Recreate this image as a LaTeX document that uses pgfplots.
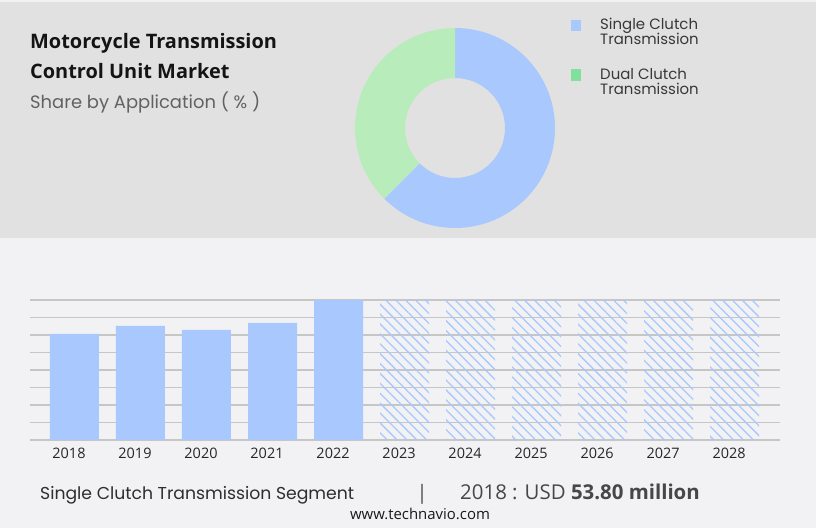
\documentclass[border=0pt]{standalone}
\usepackage{fontspec}
\setmainfont{Open Sans}
\newfontfamily\gothic{Poppins}
\usepackage{pgfplots}
\usepackage{pgfplotstable}
\pgfplotsset{compat=1.18}
\usetikzlibrary{patterns.meta}
\definecolor{topbg}{HTML}{E1E1E1}
\definecolor{botbg}{HTML}{F2F2F4}
\definecolor{barblue}{HTML}{A8C8FE}
\definecolor{piegreen}{HTML}{B8EDBB}
\definecolor{leggreen}{HTML}{80E09C}
\definecolor{gridgray}{HTML}{C6C6C6}

\pgfplotstableread{
x val
0 53.80
1 57.9
2 55.8
3 59.4
4 71.0
}\actual
\pgfplotstableread{
x val
5 71
6 71
7 71
8 71
9 71
10 71
}\forecast

\begin{document}
\begin{tikzpicture}[x=1bp,y=1bp]
\fill[botbg] (0,0) rectangle (816,528);
\useasboundingbox (0,0) rectangle (816,528);
\fill[topbg] (0,290) rectangle (816,526);

% titles
\node[anchor=base west, inner sep=0, font=\fontsize{20}{22}\selectfont\bfseries, text=black!92] at (30,479) {Motorcycle Transmission};
\node[anchor=base west, inner sep=0, font=\fontsize{20}{22}\selectfont\bfseries, text=black!92] at (30,449) {Control Unit Market};
\node[anchor=base west, inner sep=0, font=\gothic\fontsize{18}{19}\selectfont, text=black!62] at (30,419) {Share by Application ( \% )};

% donut (shares in percent)
\def\shareA{62.5}
\def\shareB{37.5}
\pgfmathsetmacro\angA{90-3.6*\shareA}
\pgfmathsetmacro\angB{\angA-3.6*\shareB}
\begin{scope}[shift={(455,400)}]
\fill[barblue] (90:100) arc[start angle=90, end angle=\angA, radius=100] -- (\angA:50) arc[start angle=\angA, end angle=90, radius=50] -- cycle;
\fill[piegreen] (\angA:100) arc[start angle=\angA, end angle=\angB, radius=100] -- (\angB:50) arc[start angle=\angB, end angle=\angA, radius=50] -- cycle;
\end{scope}

% legend
\fill[barblue] (571,497) rectangle (581,508);
\fill[leggreen] (571,447) rectangle (581,459);
\begin{scope}[every node/.style={anchor=base west, inner sep=0, font=\gothic\fontsize{15}{16}\selectfont, text=black!78}]
\node at (600,498) {Single Clutch};
\node at (600,483) {Transmission};
\node at (600,448) {Dual Clutch};
\node at (600,433) {Transmission};
\end{scope}

% bar chart
\begin{axis}[at={(30bp,88bp)}, anchor=south west, scale only axis,
  width=750bp, height=140bp,
  xmin=-0.674, xmax=10.689, ymin=0, ymax=71,
  axis line style={draw=none},
  ytick={0,8.875,...,71}, yticklabels={},
  ymajorgrids, major grid style={gridgray, line width=1.2bp},
  xtick={0,...,10},
  xticklabels={2018,2019,2020,2021,2022,2023,2024,2025,2026,2027,2028},
  major tick length=0,
  xticklabel style={font=\fontsize{14.5}{16}\selectfont, text=black!85, anchor=base, yshift=-19bp, xshift=-5.5bp},
  clip=false]
\addplot[ybar, bar width=49bp, bar shift=0pt, fill=barblue, draw=none] table[x=x, y=val] {\actual};
\addplot[ybar, bar width=49bp, bar shift=0pt, draw=none, pattern={Lines[angle=-45, distance=7bp, line width=1.3bp]}, pattern color=barblue] table[x=x, y=val] {\forecast};
\end{axis}

% footer
\node[anchor=base west, inner sep=0, font=\gothic\fontsize{17.3}{20}\selectfont, text=black!82] at (40,28) {Single Clutch Transmission Segment};
\node[anchor=base, inner sep=0, font=\fontsize{20}{24}\selectfont, text=black!70] at (422,28) {|};
\node[anchor=base west, inner sep=0, font=\fontsize{20.5}{22}\selectfont, text=black!72] at (460,28) {2018 : USD \textbf{53.80 million}};
\node[anchor=base, inner sep=0, font=\fontsize{15}{16}\selectfont, text=black!90] at (420,8) {www.technavio.com};
\end{tikzpicture}
\end{document}
